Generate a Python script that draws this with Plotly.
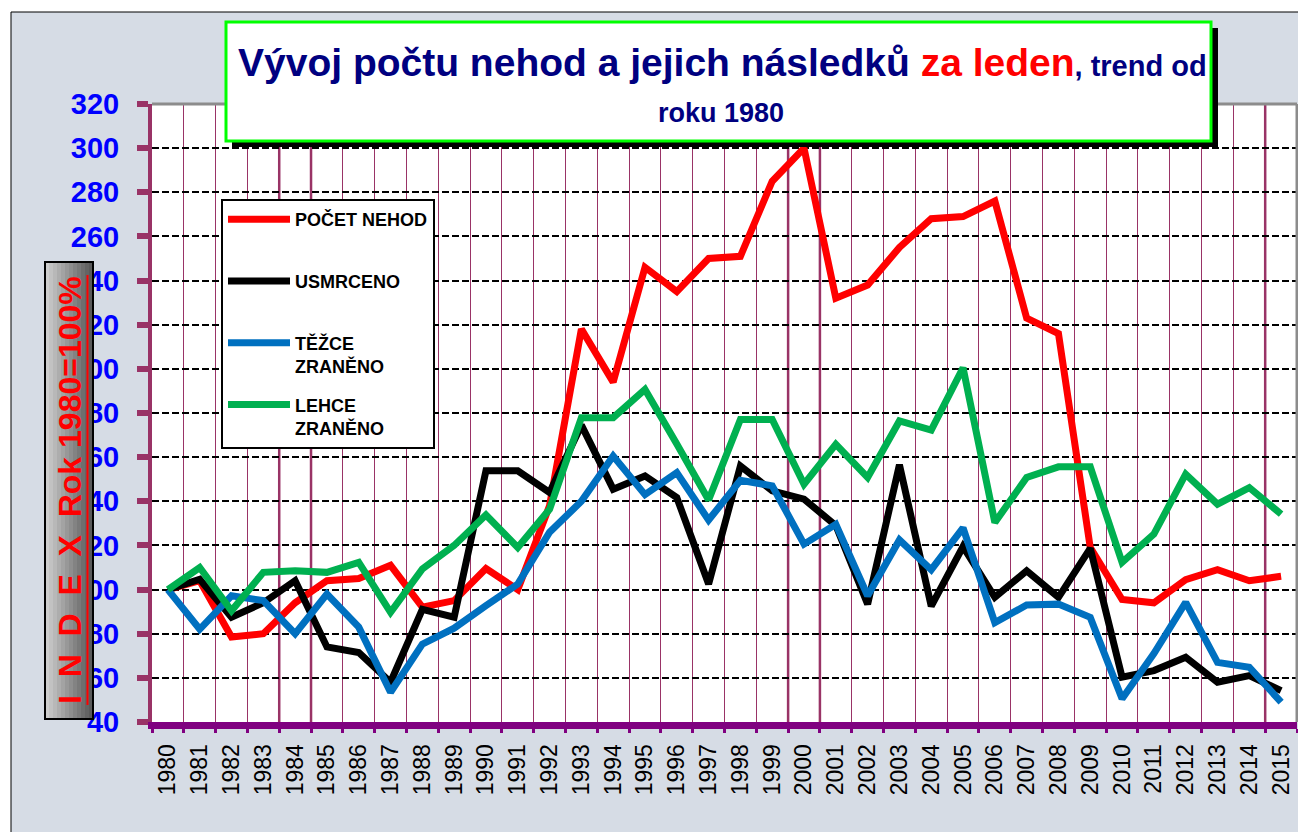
import plotly.graph_objects as go

# ---------------- data ----------------
YEARS = list(range(1980, 2016))
YEAR_LABELS = [str(y) for y in YEARS]

POCET_NEHOD = [100, 104, 78.5, 80, 94, 104, 105, 111, 92, 95,
               109.5, 100, 138, 218, 194, 246, 235, 250, 251, 285,
               300, 232, 238, 255, 268, 269, 276, 223, 216, 119,
               95.5, 94, 104.5, 109, 104, 106]
USMRCENO = [100, 104.7, 87.5, 94, 104, 74, 71.5, 58, 91, 87.5,
            153.8, 153.8, 144, 174.5, 145.5, 151.5, 141.7, 102.5, 156, 144.7,
            141, 129, 93.4, 156.5, 92.5, 119.5, 96.5, 108.5, 96.5, 118.7,
            60.3, 63.3, 69.3, 58, 61, 54.2]
TEZCE = [100, 82, 97.2, 95, 80, 98, 83, 53.5, 75.3, 82.5,
         92.7, 102.5, 126, 140, 160.5, 143, 153, 131.5, 149.5, 147,
         120.6, 129.6, 97.2, 122.5, 109, 128, 85, 93, 93.4, 87.4,
         50.5, 71, 94.2, 67, 64.8, 49]
LEHCE = [100, 110, 90.4, 107.8, 108.5, 107.8, 112.3, 89.7, 109.3, 120,
         133.8, 119.1, 136.4, 177.9, 177.9, 190.7, 166, 140.6, 177.1, 177.1,
         147.7, 165.8, 150.8, 176.4, 172.3, 200.5, 130.4, 150.8, 155.6, 155.6,
         112.3, 125.1, 152.3, 138.7, 146.2, 134.2]

SERIES_NAMES = ["POČET NEHOD<br>\u00a0", "USMRCENO<br>\u00a0", "TĚŽCE<br>ZRANĚNO", "LEHCE<br>ZRANĚNO"]
SERIES_VALUES = [POCET_NEHOD, USMRCENO, TEZCE, LEHCE]
SERIES_COLORS = ["#FF0000", "#000000", "#0070C0", "#00B050"]

Y_MIN, Y_MAX, Y_STEP = 40, 320, 20

# ---------------- geometry (reference-pixel -> paper) ----------------
OFF = 8                      # page body margin
VW, VH = 1306, 832           # viewport
W, H = VW - OFF, VH - OFF    # figure size
PL, PR, PT, PB = 152, 1297, 104, 722   # plot area in viewport pixels
L, R, T, B = PL - OFF, W - (PR - OFF), PT - OFF, H - (PB - OFF)


def px2x(px):
    return (px - PL) / (PR - PL)


def py2y(py):
    return (PB - py) / (PB - PT)


FONT = "Liberation Sans, Arial, sans-serif"

fig = go.Figure()
for name, vals, col in zip(SERIES_NAMES, SERIES_VALUES, SERIES_COLORS):
    fig.add_trace(go.Scatter(
        x=YEARS, y=vals, mode="lines", name="<b>" + name + "</b>",
        legendgroup=name,
        line=dict(color=col, width=7),
        hoverinfo="x+y",
    ))

shapes = []
# white margins + outer frame
shapes.append(dict(type="rect", xref="paper", yref="paper", x0=px2x(-5), x1=px2x(VW + 5),
                   y0=py2y(12), y1=py2y(-5), fillcolor="white", line=dict(width=0), layer="below"))
shapes.append(dict(type="rect", xref="paper", yref="paper", x0=px2x(-5), x1=px2x(11),
                   y0=py2y(VH + 5), y1=py2y(-5), fillcolor="white", line=dict(width=0), layer="below"))
shapes.append(dict(type="line", xref="paper", yref="paper", x0=px2x(11), x1=px2x(VW + 5),
                   y0=py2y(12), y1=py2y(12), line=dict(color="black", width=1), layer="below"))
shapes.append(dict(type="line", xref="paper", yref="paper", x0=px2x(11), x1=px2x(11),
                   y0=py2y(12), y1=py2y(VH + 5), line=dict(color="black", width=1), layer="below"))

# thicker vertical separators
for xb in [1983.5, 1984.5, 1999.5, 2000.5, 2014.5]:
    shapes.append(dict(type="line", xref="x", yref="paper", x0=xb, x1=xb, y0=0, y1=1,
                       line=dict(color="#993366", width=2.5), layer="below"))

# plot border top/right (grey)
shapes.append(dict(type="line", xref="paper", yref="paper", x0=0, x1=1, y0=1, y1=1,
                   line=dict(color="#8c8c8c", width=3), layer="above"))
shapes.append(dict(type="line", xref="paper", yref="paper", x0=1, x1=1, y0=0, y1=1,
                   line=dict(color="#8c8c8c", width=3), layer="above"))

# title box: shadow + white box with green border
shapes.append(dict(type="rect", xref="paper", yref="paper", x0=px2x(232), x1=px2x(1218),
                   y0=py2y(147), y1=py2y(28), fillcolor="black", line=dict(width=0), layer="above"))
shapes.append(dict(type="rect", xref="paper", yref="paper", x0=px2x(226), x1=px2x(1211),
                   y0=py2y(141), y1=py2y(22), fillcolor="white",
                   line=dict(color="#00FF00", width=3), layer="above"))

# y-axis title box with grey gradient
n_strips = 12
bx0, bx1 = 45, 93
for i in range(n_strips):
    c = int(205 - (205 - 90) * i / (n_strips - 1))
    shapes.append(dict(type="rect", xref="paper", yref="paper",
                       x0=px2x(bx0 + (bx1 - bx0) * i / n_strips),
                       x1=px2x(bx0 + (bx1 - bx0) * (i + 1) / n_strips + 0.6),
                       y0=py2y(719), y1=py2y(262),
                       fillcolor=f"rgb({c},{c},{c})", line=dict(width=0), layer="above"))
shapes.append(dict(type="rect", xref="paper", yref="paper", x0=px2x(bx0), x1=px2x(bx1),
                   y0=py2y(719), y1=py2y(262), fillcolor="rgba(0,0,0,0)",
                   line=dict(color="black", width=2), layer="above"))
shapes.append(dict(type="line", xref="paper", yref="paper", x0=px2x(87.5), x1=px2x(87.5),
                   y0=py2y(705), y1=py2y(275), line=dict(color="#FF0000", width=2), layer="above"))

annotations = [
    dict(xref="paper", yref="paper", x=px2x(236), y=py2y(62), xanchor="left", yanchor="middle",
         showarrow=False,
         text="<b>Vývoj počtu nehod a jejich následků <span style='color:#FF0000'>za leden</span>"
              "<span style='font-size:29px'>, trend od</span></b>",
         font=dict(family=FONT, size=39, color="#000080")),
    dict(xref="paper", yref="paper", x=px2x(656), y=py2y(113), xanchor="left", yanchor="middle",
         showarrow=False, text="<b>roku 1980</b>",
         font=dict(family=FONT, size=27, color="#000080")),
    dict(xref="paper", yref="paper", x=px2x(70), y=py2y(490), xanchor="center", yanchor="middle",
         showarrow=False, textangle=-90,
         text="<b>I\u00a0\u00a0N\u00a0\u00a0D\u00a0\u00a0E\u00a0\u00a0X\u00a0\u00a0Rok 1980=100%</b>",
         font=dict(family=FONT, size=32, color="#FF0000")),
]

fig.update_layout(
    width=W, height=H,
    margin=dict(l=L, r=R, t=T, b=B, pad=0),
    paper_bgcolor="#d6dce5",
    plot_bgcolor="white",
    showlegend=True,
    legend=dict(
        x=px2x(221), y=py2y(199), xanchor="left", yanchor="top",
        bgcolor="white", bordercolor="black", borderwidth=2,
        font=dict(family=FONT, size=18, color="black"),
        tracegroupgap=12, itemwidth=62, valign="top",
    ),
    shapes=shapes,
    annotations=annotations,
    xaxis=dict(
        range=[YEARS[0] - 0.5, YEARS[-1] + 0.5],
        tickmode="array", tickvals=YEARS, ticktext=YEAR_LABELS,
        tickangle=-90, ticks="", showgrid=False, zeroline=False,
        tickfont=dict(family=FONT, size=23, color="black"),
        ticklabelstandoff=6,
        showline=True, linecolor="#800080", linewidth=7,
        minor=dict(tickmode="array", tickvals=[y - 0.5 for y in YEARS] + [YEARS[-1] + 0.5],
                   ticks="outside", ticklen=4, tickwidth=3, tickcolor="#800080",
                   showgrid=True, gridcolor="#993366", gridwidth=1),
    ),
    yaxis=dict(
        range=[Y_MIN, Y_MAX], tickmode="linear", tick0=Y_MIN, dtick=Y_STEP,
        showgrid=True, gridcolor="black", gridwidth=1.5, griddash="7px,3px",
        zeroline=False,
        ticks="outside", ticklen=11, tickwidth=6, tickcolor="#993366",
        showline=True, linecolor="#993366", linewidth=4,
        tickfont=dict(family=FONT, size=29, color="#0000FF", weight="bold"),
        ticklabelstandoff=12,
    ),
)

fig.write_html("out.html")
